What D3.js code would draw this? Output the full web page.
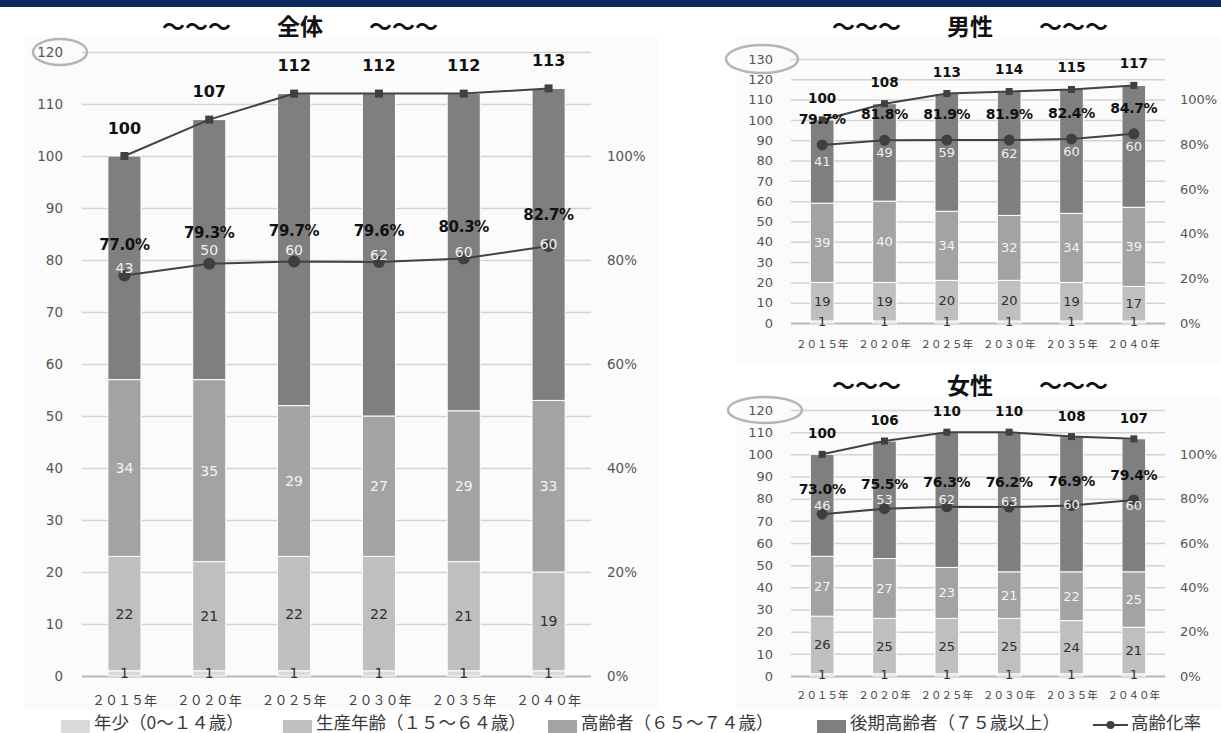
<!DOCTYPE html>
<html><head><meta charset="utf-8">
<script src="https://cdn.jsdelivr.net/npm/d3@7"></script>
<style>
body{margin:0;background:#fff;}
svg{display:block;}
</style></head><body>
<svg id="c" width="1221" height="733"></svg>
<script>
// ---------- data ----------
const years = ["２０１５年","２０２０年","２０２５年","２０３０年","２０３５年","２０４０年"];

// 全体
const allChild    = [1,1,1,1,1,1];
const allWorking  = [22,21,22,22,21,19];
const allYoungOld = [34,35,29,27,29,33];
const allOldOld   = [43,50,60,62,60,60];
const allTotal    = [100,107,112,112,112,113];
const allRatio    = [0.770,0.793,0.797,0.796,0.803,0.827];

// 男性
const maleChild    = [1,1,1,1,1,1];
const maleWorking  = [19,19,20,20,19,17];
const maleYoungOld = [39,40,34,32,34,39];
const maleOldOld   = [41,49,59,62,60,60];
const maleTotal    = [100,108,113,114,115,117];
const maleRatio    = [0.797,0.818,0.819,0.819,0.824,0.847];

// 女性
const femaleChild    = [1,1,1,1,1,1];
const femaleWorking  = [26,25,25,25,24,21];
const femaleYoungOld = [27,27,23,21,22,25];
const femaleOldOld   = [46,53,62,63,60,60];
const femaleTotal    = [100,106,110,110,108,107];
const femaleRatio    = [0.730,0.755,0.763,0.762,0.769,0.794];

const titles = ["～～～　　全体　　～～～","～～～　　男性　　～～～","～～～　　女性　　～～～"];
const seriesNames = ["年少（0～１４歳）","生産年齢（１５～６４歳）","高齢者（６５～７４歳）","後期高齢者（７５歳以上）","高齢化率"];
const allTicks = d3.range(0,121,10);
const maleTicks = d3.range(0,131,10);
const femaleTicks = d3.range(0,121,10);
const pctTicks = [0,0.2,0.4,0.6,0.8,1.0];

// ---------- style ----------
const segColors = ["#dadada","#bfbfbf","#a3a3a3","#7f7f7f"];
const segText   = ["#303030","#303030","#f4f4f4","#f0f0f0"];
const lineColor = "#424242";
const NUM = "'DejaVu Sans', Verdana, sans-serif";
const JP  = "'Noto Sans CJK JP', 'Noto Sans', sans-serif";

const svg = d3.select("#c");

// top navy band
svg.append("rect").attr("x",0).attr("y",0).attr("width",1221).attr("height",7).attr("fill","#0b2a5e");
// faint chart backgrounds
svg.append("rect").attr("x",25).attr("y",38).attr("width",633).attr("height",672).attr("fill","#fbfbfb");
svg.append("rect").attr("x",736).attr("y",38).attr("width",485).attr("height",325).attr("fill","#fbfbfb");
svg.append("rect").attr("x",736).attr("y",398).attr("width",485).attr("height",312).attr("fill","#fbfbfb");

function drawChart(cfg){
  const g = svg.append("g");
  const x = d3.scaleBand().domain(years).range([cfg.x0,cfg.x1]).paddingInner(cfg.pad).paddingOuter(cfg.pad/2);
  const y = d3.scaleLinear().domain([0,cfg.yMax]).range([cfg.yB,cfg.yT]);
  const yR = d3.scaleLinear().domain([0,cfg.rMax]).range([cfg.yB,cfg.yT]);

  // gridlines + left labels
  const ax = g.append("g").attr("transform",`translate(${cfg.x0},0)`)
    .call(d3.axisLeft(y).tickValues(cfg.ticks).tickSizeInner(-(cfg.x1-cfg.x0)).tickSizeOuter(0).tickPadding(cfg.tpad));
  ax.select(".domain").remove();
  ax.selectAll("line").attr("stroke",d=>d===0?"#b8b8b8":"#d3d3d3").attr("stroke-width",d=>d===0?2:1.5);
  ax.selectAll("text").attr("font-family",NUM).attr("font-size",cfg.axFs).attr("fill","#555");

  // right axis labels
  const axR = g.append("g").attr("transform",`translate(${cfg.x1},0)`)
    .call(d3.axisRight(yR).tickValues(pctTicks).tickFormat(d3.format(".0%")).tickSize(0).tickPadding(cfg.rpad));
  axR.select(".domain").remove();
  axR.selectAll("text").attr("font-family",NUM).attr("font-size",cfg.axFs).attr("fill","#555");

  // stacked segments
  const rows = years.map((yr,i)=>{
    const vals=[cfg.child[i],cfg.working[i],cfg.young[i],cfg.old[i]];
    let c=0; const segs=vals.map((v,k)=>{const s={k,v,y0:c,y1:c+v}; c+=v; return s;});
    segs[3].y1 = cfg.total[i]; // top of bar = total index
    return {yr,segs};
  });
  const bw = x.bandwidth();
  rows.forEach(r=>{
    g.selectAll(null).data(r.segs).enter().append("rect")
      .attr("x",x(r.yr)).attr("width",bw)
      .attr("y",d=>y(d.y1)).attr("height",d=>y(d.y0)-y(d.y1))
      .attr("fill",d=>segColors[d.k]).attr("stroke","#fff").attr("stroke-width",1);
  });

  // year labels
  g.selectAll(null).data(years).enter().append("text")
    .attr("x",d=>x(d)+bw/2).attr("y",cfg.yearY).attr("text-anchor","middle").attr("dominant-baseline","central")
    .attr("font-family",JP).attr("font-size",cfg.yearFs).attr("fill","#404040").text(d=>d);

  // lines
  const cx = d=>x(d)+bw/2;
  const totLine = d3.line().x((d,i)=>cx(years[i])).y(d=>y(d));
  g.append("path").datum(cfg.total).attr("d",totLine).attr("fill","none").attr("stroke",lineColor).attr("stroke-width",2);
  const ratLine = d3.line().x((d,i)=>cx(years[i])).y(d=>yR(d));
  g.append("path").datum(cfg.ratio).attr("d",ratLine).attr("fill","none").attr("stroke",lineColor).attr("stroke-width",2);
  g.selectAll(null).data(cfg.ratio).enter().append("circle")
    .attr("cx",(d,i)=>cx(years[i])).attr("cy",d=>yR(d)).attr("r",cfg.cr).attr("fill","#3f3f3f");
  g.selectAll(null).data(cfg.total).enter().append("rect")
    .attr("x",(d,i)=>cx(years[i])-cfg.sq/2).attr("y",d=>y(d)-cfg.sq/2).attr("width",cfg.sq).attr("height",cfg.sq).attr("fill","#404040");

  // segment labels
  rows.forEach(r=>{
    g.selectAll(null).data(r.segs).enter().append("text")
      .attr("x",x(r.yr)+bw/2).attr("y",d=>y((d.y0+d.y1)/2)).attr("text-anchor","middle").attr("dominant-baseline","central")
      .attr("font-family",NUM).attr("font-size",cfg.segFs).attr("fill",d=>segText[d.k]).text(d=>d.v);
  });

  // total labels
  g.selectAll(null).data(cfg.total).enter().append("text")
    .attr("x",(d,i)=>cx(years[i])).attr("y",d=>y(d)+cfg.totOff).attr("text-anchor","middle").attr("dominant-baseline","central")
    .attr("font-family",NUM).attr("font-weight","bold").attr("font-size",cfg.totFs).attr("fill","#111").text(d=>d);
  // ratio labels
  g.selectAll(null).data(cfg.ratio).enter().append("text")
    .attr("x",(d,i)=>cx(years[i])).attr("y",d=>yR(d)+cfg.ratOff).attr("text-anchor","middle").attr("dominant-baseline","central")
    .attr("font-family",NUM).attr("font-weight","bold").attr("font-size",cfg.ratFs).attr("fill","#111").attr("letter-spacing",-0.3)
    .text(d=>d3.format(".1%")(d));

  // title
  g.append("text").attr("x",cfg.titleX).attr("y",cfg.titleY).attr("text-anchor","middle").attr("dominant-baseline","central")
    .attr("font-family",JP).attr("font-weight","bold").attr("font-size",23).attr("fill","#111").text(cfg.title);

  // ellipse on top tick
  g.append("ellipse").attr("cx",cfg.ell[0]).attr("cy",y(cfg.yMax)).attr("rx",cfg.ell[1]).attr("ry",cfg.ell[2])
    .attr("fill","none").attr("stroke","#b5b5b5").attr("stroke-width",2.5);
}

drawChart({child:allChild,working:allWorking,young:allYoungOld,old:allOldOld,total:allTotal,ratio:allRatio,
  ticks:allTicks,yMax:120,rMax:1.2,x0:82,x1:591,yB:676,yT:52,pad:0.61,tpad:19,rpad:16,axFs:13.5,
  yearY:699,yearFs:13,cr:6,sq:8,segFs:14,totFs:16,totOff:-28,ratFs:15,ratOff:-31,
  title:titles[0],titleX:300,titleY:25,ell:[60,27,13]});

drawChart({child:maleChild,working:maleWorking,young:maleYoungOld,old:maleOldOld,total:maleTotal,ratio:maleRatio,
  ticks:maleTicks,yMax:130,rMax:1.3/1.1,x0:791,x1:1165,yB:323,yT:59,pad:0.62,tpad:18,rpad:15,axFs:13,
  yearY:343,yearFs:10.5,cr:5.5,sq:7,segFs:13,totFs:13.5,totOff:-22,ratFs:14,ratOff:-26,
  title:titles[1],titleX:970,titleY:25,ell:[762,36,14]});

drawChart({child:femaleChild,working:femaleWorking,young:femaleYoungOld,old:femaleOldOld,total:femaleTotal,ratio:femaleRatio,
  ticks:femaleTicks,yMax:120,rMax:1.2,x0:791,x1:1165,yB:676,yT:410,pad:0.62,tpad:18,rpad:15,axFs:13,
  yearY:694,yearFs:10.5,cr:5.5,sq:7,segFs:13,totFs:13.5,totOff:-21,ratFs:14,ratOff:-25,
  title:titles[2],titleX:970,titleY:384,ell:[765,37,13]});

// ---------- legend ----------
const legX = [61,283,548,817,1093];
const leg = svg.append("g");
seriesNames.forEach((name,i)=>{
  if(i<4){
    leg.append("rect").attr("x",legX[i]).attr("y",720).attr("width",29).attr("height",13).attr("fill",segColors[i]);
    leg.append("text").attr("x",legX[i]+33).attr("y",721).attr("dominant-baseline","central")
      .attr("font-family",JP).attr("font-size",17.5).attr("fill","#3a3a3a").text(name);
  } else {
    leg.append("line").attr("x1",legX[i]).attr("x2",legX[i]+35).attr("y1",725).attr("y2",725).attr("stroke",lineColor).attr("stroke-width",2);
    leg.append("circle").attr("cx",legX[i]+17.5).attr("cy",725).attr("r",4).attr("fill","#3f3f3f");
    leg.append("text").attr("x",legX[i]+38).attr("y",721).attr("dominant-baseline","central")
      .attr("font-family",JP).attr("font-size",17.5).attr("fill","#3a3a3a").text(name);
  }
});
</script>
</body></html>
